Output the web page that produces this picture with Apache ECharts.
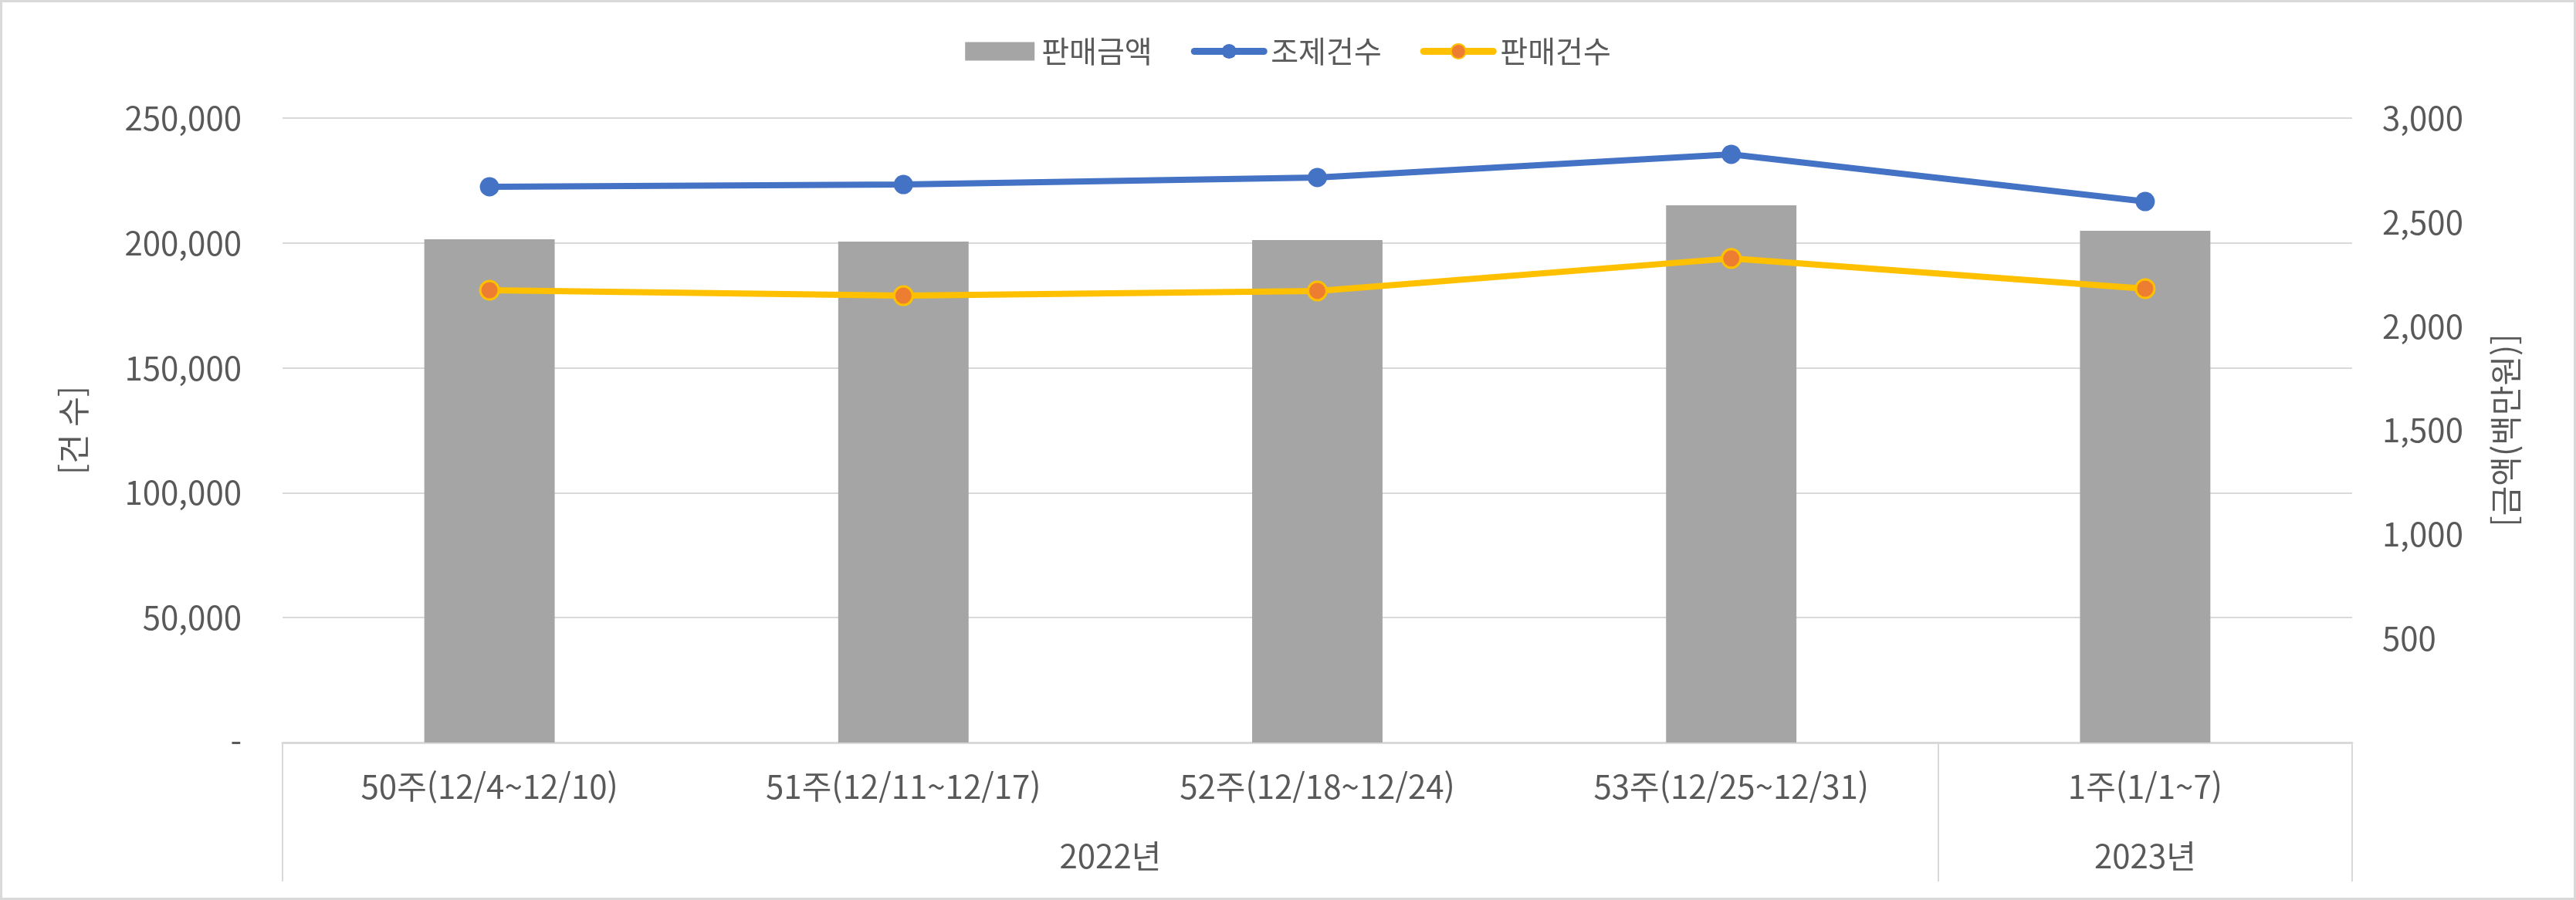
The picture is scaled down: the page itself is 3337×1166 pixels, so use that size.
<!DOCTYPE html>
<html lang="ko">
<head>
    <meta charset="UTF-8">
    <title>판매금액 / 조제건수 / 판매건수</title>
    <script src="https://cdn.jsdelivr.net/npm/echarts@6/dist/echarts.min.js"></script>
    <style>
        html, body { margin: 0; padding: 0; background: #fff; }
        #container { width: 3337px; height: 1166px; }
    </style>
</head>
<body>
<div id="container"></div>

<script type="text/javascript">
    var categories = ['50주(12/4~12/10)', '51주(12/11~12/17)', '52주(12/18~12/24)', '53주(12/25~12/31)', '1주(1/1~7)'];
    var weekYears = ['2022년', '2022년', '2022년', '2022년', '2023년'];
    var salesAmount = [2418, 2407, 2414, 2581, 2459];          // 판매금액 (백만원)
    var dispenseCount = [222500, 223400, 226200, 235500, 216600]; // 조제건수
    var salesCount = [181100, 178900, 180800, 193800, 181700];    // 판매건수
    var leftTicks = [0, 50000, 100000, 150000, 200000, 250000];
    var rightTicks = [0, 500, 1000, 1500, 2000, 2500, 3000];

    // year groups -> label at centre of each group (in half-category units)
    var yearCenters = {};
    var start = 0;
    for (var i = 1; i <= weekYears.length; i++) {
        if (i === weekYears.length || weekYears[i] !== weekYears[start]) {
            yearCenters[start + i] = weekYears[start];
            start = i;
        }
    }

    var FONT = '"Noto Sans CJK KR", "Noto Sans", sans-serif';
    var TXT = '#595959';
    var GRID = '#d9d9d9';

    var dom = document.getElementById('container');
    var myChart = echarts.init(dom, null, { renderer: 'canvas' });

    var option = {
        backgroundColor: '#fff',
        textStyle: { fontFamily: FONT, color: TXT },
        legend: {
            top: 42,
            left: 'center',
            itemGap: 50,
            itemWidth: 90,
            itemHeight: 24,
            textStyle: { fontSize: 39, color: TXT, fontFamily: FONT, padding: [0, 0, 0, 4] },
            data: [
                { name: '판매금액', icon: 'rect' },
                { name: '조제건수', lineStyle: { width: 9, cap: 'round' } },
                { name: '판매건수', lineStyle: { width: 9, cap: 'round' } }
            ]
        },
        grid: { left: 366, right: 290, top: 153, bottom: 204, containLabel: false },
        graphic: [{
            type: 'rect',
            shape: { x: 1.5, y: 1.5, width: 3334, height: 1163 },
            style: { fill: 'none', stroke: GRID, lineWidth: 3 },
            silent: true
        }],
        xAxis: [{
            type: 'category',
            data: categories,
            axisLine: { lineStyle: { color: GRID, width: 3 } },
            axisTick: {
                show: true,
                length: 180,
                interval: function (idx) { return idx === 0 || weekYears[idx] !== weekYears[idx - 1]; },
                lineStyle: { color: GRID, width: 2 }
            },
            axisLabel: { fontSize: 42, color: TXT, margin: 36, interval: 0, fontFamily: FONT }
        }, {
            type: 'value',
            position: 'bottom',
            min: 0,
            max: weekYears.length * 2,
            interval: 1,
            axisLine: { show: false },
            axisTick: { show: false },
            splitLine: { show: false },
            axisLabel: {
                margin: 126,
                fontSize: 42,
                color: TXT,
                fontFamily: FONT,
                showMinLabel: true,
                showMaxLabel: true,
                formatter: function (v) { return yearCenters[v] || ''; }
            }
        }],
        yAxis: [{
            type: 'value',
            min: leftTicks[0],
            max: leftTicks[leftTicks.length - 1],
            interval: leftTicks[1] - leftTicks[0],
            name: '[건 수]',
            nameLocation: 'middle',
            nameRotate: 90,
            nameGap: 250,
            nameTextStyle: { fontSize: 42, color: TXT, fontFamily: FONT },
            axisLine: { show: false },
            axisTick: { show: false },
            splitLine: { lineStyle: { color: GRID, width: 2 } },
            axisLabel: {
                fontSize: 42, color: TXT, margin: 53, fontFamily: FONT,
                formatter: function (v) { return v === 0 ? '-' : v.toLocaleString('en-US'); }
            }
        }, {
            type: 'value',
            min: rightTicks[0],
            max: rightTicks[rightTicks.length - 1],
            interval: rightTicks[1] - rightTicks[0],
            name: '[금액(백만원)]',
            nameLocation: 'middle',
            nameRotate: 90,
            nameGap: 178,
            nameTextStyle: { fontSize: 42, color: TXT, fontFamily: FONT },
            axisLine: { show: false },
            axisTick: { show: false },
            splitLine: { show: false },
            axisLabel: {
                fontSize: 42, color: TXT, margin: 39, fontFamily: FONT,
                formatter: function (v) { return v === 0 ? '' : v.toLocaleString('en-US'); }
            }
        }],
        series: [{
            name: '판매금액',
            type: 'bar',
            xAxisIndex: 0,
            yAxisIndex: 1,
            barWidth: '31.5%',
            itemStyle: { color: '#a5a5a5' },
            data: salesAmount
        }, {
            name: '조제건수',
            type: 'line',
            xAxisIndex: 0,
            yAxisIndex: 0,
            symbol: 'circle',
            symbolSize: 25,
            lineStyle: { color: '#4472c4', width: 8 },
            itemStyle: { color: '#4472c4' },
            data: dispenseCount
        }, {
            name: '판매건수',
            type: 'line',
            xAxisIndex: 0,
            yAxisIndex: 0,
            symbol: 'circle',
            symbolSize: 24,
            lineStyle: { color: '#ffc000', width: 8 },
            itemStyle: { color: '#ed7d31', borderColor: '#ffc000', borderWidth: 3 },
            data: salesCount
        }]
    };

    myChart.setOption(option);
    window.addEventListener('resize', myChart.resize);
</script>
</body>
</html>
